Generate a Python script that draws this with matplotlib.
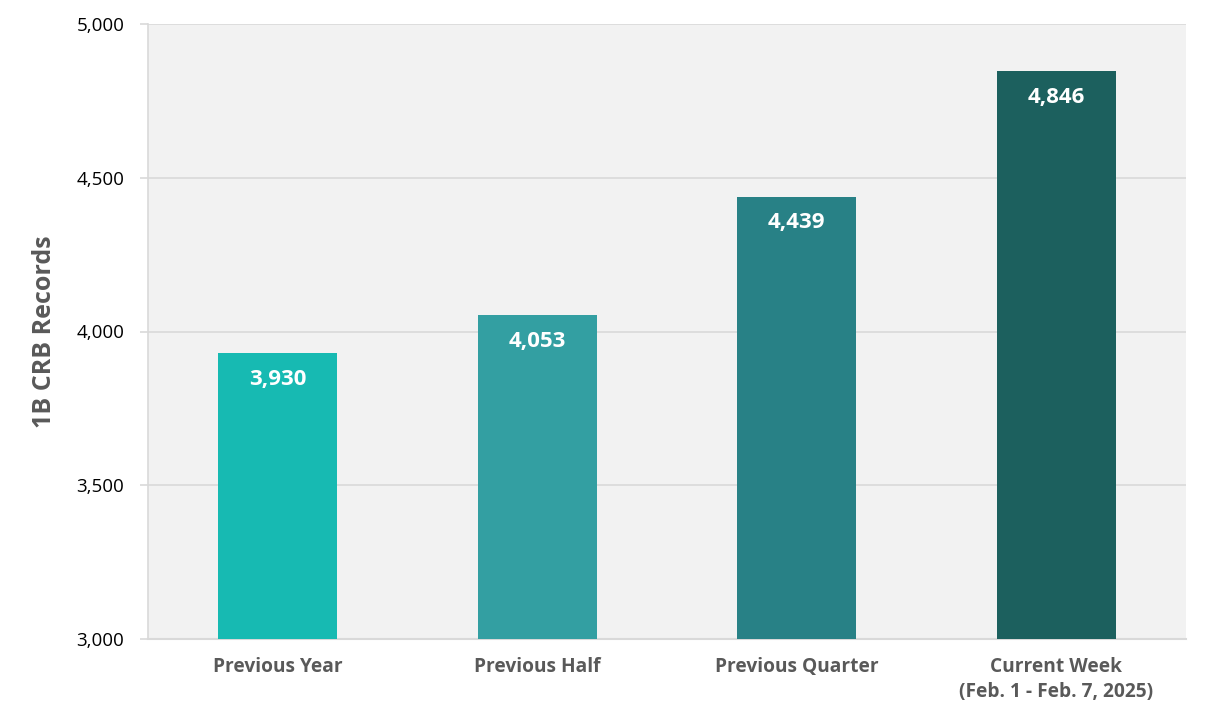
import matplotlib
matplotlib.use("Agg")
import matplotlib.pyplot as plt
from matplotlib.ticker import FuncFormatter

categories = ["Previous Year", "Previous Half", "Previous Quarter", "Current Week\n(Feb. 1 - Feb. 7, 2025)"]
values = [3930, 4053, 4439, 4846]
bar_colors = ["#17BAB2", "#339FA2", "#288186", "#1C605E"]
y_ticks = [3000, 3500, 4000, 4500, 5000]
y_label = "1B CRB Records"

plt.rcParams['font.family'] = ['Open Sans', 'DejaVu Sans']

fig = plt.figure(figsize=(12.1, 7.22), dpi=100)
ax = fig.add_axes([148/1210, 1-639/722, (1186-148)/1210, (639-24)/722])
ax.set_facecolor("#F2F2F2")

x = list(range(len(categories)))
bars = ax.bar(x, values, width=0.46, color=bar_colors, zorder=3)

ax.set_xlim(-0.5, len(categories) - 0.5)
ax.set_ylim(3000, 5000)
ax.set_yticks(y_ticks)
ax.yaxis.set_major_formatter(FuncFormatter(lambda v, p: f"{int(v):,}"))
ax.grid(axis='y', color="#D9D9D9", linewidth=1.2, zorder=0)
ax.set_xticks(x)
ax.set_xticklabels(categories, fontsize=13.8, fontweight='bold', color="#595959", linespacing=1.35)
ax.tick_params(axis='x', length=0, pad=13)
ax.tick_params(axis='y', length=6, color="#D9D9D9", width=1.2, labelsize=13.5, labelcolor="#000000", pad=11)

for side in ['top', 'right']:
    ax.spines[side].set_visible(False)
ax.spines['left'].set_color("#D9D9D9")
ax.spines['left'].set_linewidth(1.2)
ax.spines['bottom'].set_color("#D9D9D9")
ax.spines['bottom'].set_linewidth(1.5)

ax.set_ylabel(y_label, fontsize=18, fontweight='bold', color="#595959", labelpad=14)

for b, v in zip(bars, values):
    ax.annotate(f"{v:,}", xy=(b.get_x() + b.get_width()/2, v), xytext=(0, -19),
                textcoords='offset points', ha='center', va='center',
                fontsize=16, fontweight='bold', color='white', zorder=4)

fig.savefig("out.png", dpi=100, facecolor='white')
